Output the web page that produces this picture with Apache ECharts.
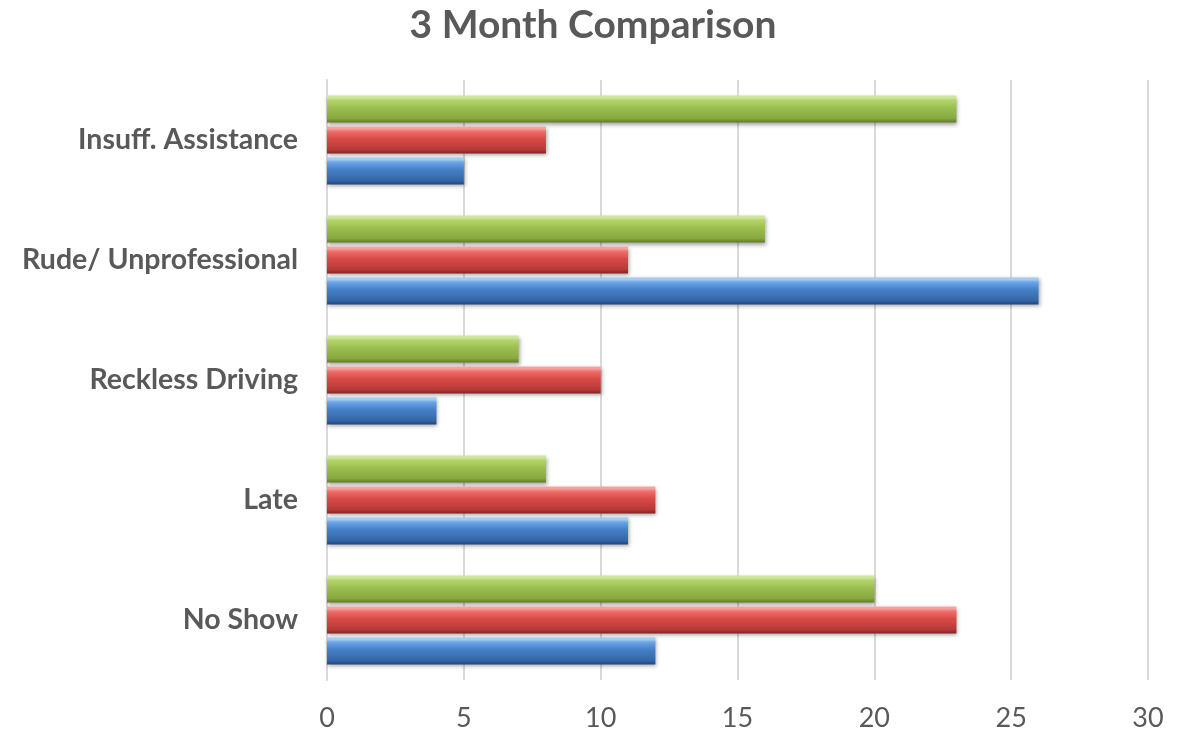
<!DOCTYPE html>
<html>
<head>
<meta charset="utf-8">
<script src="https://cdn.jsdelivr.net/npm/echarts@6/dist/echarts.min.js"></script>
<style>
  html, body { margin: 0; padding: 0; background: #fff; }
  #chart { width: 1186px; height: 733px; }
</style>
</head>
<body>
<div id="chart"></div>
<script>
// Complaint categories, listed bottom to top
const categories = ['No Show', 'Late', 'Reckless Driving', 'Rude/ Unprofessional', 'Insuff. Assistance'];
// Counts for each of the three months
const month1 = [12, 11, 4, 26, 5];
const month2 = [23, 12, 10, 11, 8];
const month3 = [20, 8, 7, 16, 23];
const xTicks = [0, 5, 10, 15, 20, 25, 30];

// Vertical gradient giving each bar a bevelled, rounded look
function bevel(top, light, mid, dark, edge) {
  return {
    type: 'linear', x: 0, y: 0, x2: 0, y2: 1,
    colorStops: [
      { offset: 0, color: top },
      { offset: 0.08, color: top },
      { offset: 0.18, color: light },
      { offset: 0.45, color: mid },
      { offset: 0.85, color: dark },
      { offset: 1, color: edge }
    ]
  };
}

// Within each category ECharts stacks series top-down, so the latest month comes first
const styles = [
  { name: 'Month 3', data: month3, fill: bevel('#cfe59a', '#b3d46a', '#9cbf50', '#86a83e', '#5f7a2a') },
  { name: 'Month 2', data: month2, fill: bevel('#f6a3a0', '#ee6f6b', '#d84b47', '#b73a37', '#7e2624') },
  { name: 'Month 1', data: month1, fill: bevel('#a6cbf2', '#6aa3e6', '#4680c7', '#3566a8', '#23467a') }
];

const chart = echarts.init(document.getElementById('chart'));
chart.setOption({
  animation: false,
  title: {
    text: '3 Month Comparison',
    left: 'center',
    top: 1,
    textStyle: { fontFamily: 'Lato', fontWeight: 'bold', fontSize: 39, color: '#595959' }
  },
  grid: { left: 327, right: 38, top: 80, bottom: 53, containLabel: false },
  xAxis: {
    type: 'value',
    min: 0, max: 30, interval: 5,
    axisLine: { show: false },
    axisTick: { show: false },
    splitLine: { show: true, lineStyle: { color: '#d9d9d9', width: 2 } },
    axisLabel: {
      margin: 25,
      fontFamily: 'Lato', fontSize: 27, color: '#595959',
      formatter: v => xTicks.includes(v) ? String(v) : ''
    }
  },
  yAxis: {
    type: 'category',
    data: categories,
    axisLine: { show: true, lineStyle: { color: '#d9d9d9', width: 2 } },
    axisTick: { show: false },
    axisLabel: {
      margin: 29,
      fontFamily: 'Lato', fontWeight: 'bold', fontSize: 28.5, color: '#595959'
    }
  },
  series: styles.map(s => ({
    type: 'bar',
    name: s.name,
    data: s.data,
    barGap: '15%',
    barCategoryGap: '26%',
    itemStyle: {
      color: s.fill,
      shadowColor: 'rgba(0,0,0,0.35)',
      shadowBlur: 4,
      shadowOffsetX: 1,
      shadowOffsetY: 2
    }
  }))
});
</script>
</body>
</html>
